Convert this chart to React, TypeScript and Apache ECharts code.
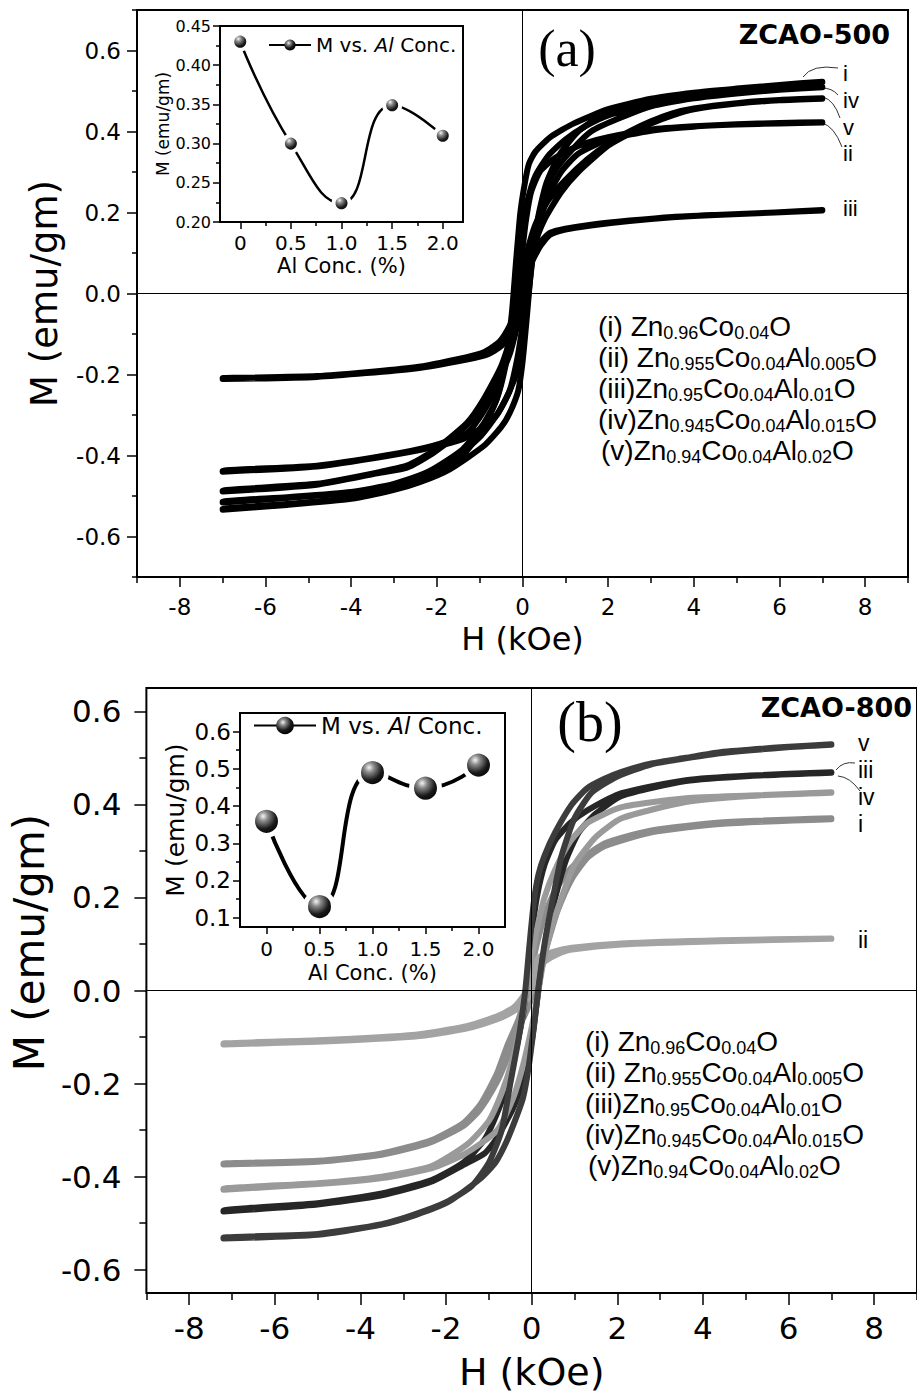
import React, { useEffect, useRef } from 'react';
import * as echarts from 'echarts';

// ---------- Inset data (M vs Al concentration) ----------
const alConc = [0, 0.5, 1.0, 1.5, 2.0];
const insetA_M = [0.43, 0.30, 0.224, 0.349, 0.31];
const insetB_M = [0.359, 0.13, 0.49, 0.448, 0.51];

// ---------- Tick values ----------
const mainXTicks = [-8, -6, -4, -2, 0, 2, 4, 6, 8];
const mainXMinor = [-9, -7, -5, -3, -1, 1, 3, 5, 7, 9];
const mainYTicksA = [-0.6, -0.4, -0.2, 0, 0.2, 0.4, 0.6];
const mainYMinorA = [-0.7, -0.5, -0.3, -0.1, 0.1, 0.3, 0.5, 0.7];
const mainYTicksB = [-0.6, -0.4, -0.2, 0, 0.2, 0.4, 0.6];
const mainYMinorB = [-0.5, -0.3, -0.1, 0.1, 0.3, 0.5];
const insetXTicks = [0, 0.5, 1.0, 1.5, 2.0];
const insetXMinor = [0.25, 0.75, 1.25, 1.75];
const insetAYTicks = [0.2, 0.25, 0.3, 0.35, 0.4, 0.45];
const insetAYMinor = [0.225, 0.275, 0.325, 0.375, 0.425];
const insetBYTicks = [0.1, 0.2, 0.3, 0.4, 0.5, 0.6];
const insetBYMinor = [0.15, 0.25, 0.35, 0.45, 0.55];

// ---------- Panel (a) ZCAO-500 loops: [H (kOe), M (emu/gm)] ----------
const a_i_down = [[7,0.523],[6,0.515],[5,0.506],[4,0.496],[3,0.481],[2,0.455],[1.2,0.42],[0.65,0.386],[0.3,0.35],[0.15,0.32],[0.05,0.27],[-0.05,0.2],[-0.15,0.08],[-0.25,-0.05],[-0.4,-0.17],[-0.6,-0.26],[-0.9,-0.33],[-1.4,-0.4],[-2.2,-0.455],[-3,-0.483],[-4,-0.505],[-5.5,-0.52],[-7,-0.532]];
const a_i_up = [[-7,-0.534],[-5.5,-0.522],[-4,-0.507],[-3,-0.485],[-2.4,-0.466],[-1.7,-0.434],[-0.9,-0.376],[-0.5,-0.33],[-0.3,-0.295],[-0.1,-0.24],[0,-0.17],[0.1,-0.06],[0.2,0.06],[0.35,0.18],[0.55,0.27],[0.85,0.34],[1.3,0.4],[2,0.448],[3,0.479],[4,0.495],[5,0.505],[6,0.514],[7,0.522]];
const a_ii_down = [[7,0.423],[6,0.421],[5,0.418],[4,0.413],[3,0.405],[2,0.386],[1.5,0.372],[1.1,0.355],[0.7,0.33],[0.4,0.3],[0.2,0.25],[0.08,0.18],[0,0.11],[-0.1,0.02],[-0.2,-0.06],[-0.35,-0.15],[-0.55,-0.22],[-0.9,-0.29],[-1.3,-0.345],[-2.1,-0.376],[-3.2,-0.4],[-4.8,-0.425],[-7,-0.438]];
const a_ii_up = [[-7,-0.44],[-4.8,-0.427],[-3.2,-0.402],[-2.1,-0.38],[-1.4,-0.36],[-1,-0.335],[-0.6,-0.3],[-0.3,-0.24],[-0.12,-0.16],[0,-0.08],[0.1,0],[0.2,0.07],[0.35,0.15],[0.55,0.23],[0.9,0.3],[1.3,0.345],[2,0.38],[3,0.402],[4,0.412],[5,0.417],[6,0.42],[7,0.422]];
const a_iii_down = [[7,0.206],[5.9,0.2],[4.5,0.194],[3.5,0.189],[2.5,0.18],[1.6,0.17],[1,0.16],[0.65,0.15],[0.4,0.125],[0.2,0.09],[0.05,0.04],[-0.05,0],[-0.15,-0.04],[-0.3,-0.08],[-0.53,-0.118],[-0.9,-0.145],[-1.3,-0.157],[-2.5,-0.182],[-4.8,-0.204],[-7,-0.209]];
const a_iii_up = [[-7,-0.211],[-4.8,-0.206],[-2.5,-0.185],[-1.3,-0.163],[-0.8,-0.15],[-0.5,-0.13],[-0.3,-0.1],[-0.13,-0.064],[0,-0.02],[0.1,0.02],[0.17,0.066],[0.41,0.116],[0.64,0.145],[1,0.158],[1.6,0.168],[2.5,0.179],[3.5,0.188],[4.5,0.194],[5.9,0.2],[7,0.205]];
const a_iv_down = [[7,0.51],[6,0.503],[5,0.494],[4,0.484],[3,0.468],[2,0.44],[1.5,0.415],[1,0.38],[0.6,0.34],[0.3,0.29],[0.12,0.23],[0,0.16],[-0.12,0.04],[-0.25,-0.08],[-0.4,-0.18],[-0.6,-0.26],[-0.9,-0.32],[-1.4,-0.385],[-2.2,-0.44],[-3,-0.47],[-4,-0.49],[-5.5,-0.503],[-7,-0.514]];
const a_iv_up = [[-7,-0.516],[-5.5,-0.505],[-4,-0.492],[-3,-0.472],[-2.2,-0.442],[-1.5,-0.4],[-1,-0.355],[-0.6,-0.3],[-0.3,-0.24],[-0.12,-0.19],[0,-0.13],[0.12,-0.02],[0.25,0.1],[0.4,0.2],[0.6,0.27],[0.8,0.31],[1.2,0.36],[1.6,0.4],[2.2,0.43],[3,0.462],[4,0.482],[5,0.494],[6,0.503],[7,0.509]];
const a_v_down = [[7,0.482],[6,0.478],[5,0.47],[4,0.457],[3.5,0.445],[3,0.425],[2.5,0.4],[2,0.37],[1.5,0.33],[1,0.28],[0.6,0.23],[0.3,0.17],[0.1,0.1],[0,0.05],[-0.1,-0.02],[-0.25,-0.1],[-0.5,-0.18],[-0.9,-0.26],[-1.3,-0.32],[-2.1,-0.39],[-2.7,-0.425],[-3.3,-0.44],[-4.8,-0.47],[-7,-0.487]];
const a_v_up = [[-7,-0.489],[-4.8,-0.472],[-3.3,-0.442],[-2.7,-0.43],[-2.1,-0.395],[-1.5,-0.345],[-1,-0.29],[-0.6,-0.22],[-0.3,-0.15],[-0.1,-0.07],[0,-0.02],[0.1,0.04],[0.25,0.11],[0.5,0.18],[0.9,0.25],[1.3,0.3],[2,0.365],[2.5,0.395],[3,0.42],[3.5,0.44],[4,0.455],[5,0.469],[6,0.477],[7,0.481]];

// ---------- Panel (b) ZCAO-800 loops ----------
const b_i_down = [[7,0.37],[4.4,0.361],[2.8,0.344],[1.7,0.316],[0.94,0.265],[0.55,0.215],[0.3,0.16],[0.12,0.1],[0,0.05],[-0.15,-0.01],[-0.3,-0.06],[-0.59,-0.123],[-0.82,-0.18],[-1.2,-0.245],[-1.6,-0.285],[-2.35,-0.322],[-3.5,-0.35],[-5,-0.366],[-7.2,-0.372]];
const b_i_up = [[-7.2,-0.374],[-5,-0.368],[-3.5,-0.353],[-2.35,-0.326],[-1.58,-0.29],[-1.21,-0.256],[-0.82,-0.198],[-0.59,-0.15],[-0.3,-0.08],[-0.1,-0.04],[0.05,0],[0.2,0.05],[0.4,0.11],[0.6,0.17],[0.94,0.24],[1.3,0.285],[1.7,0.31],[2.8,0.34],[4.4,0.358],[7,0.368]];
const b_ii_down = [[7,0.112],[4.4,0.108],[2.1,0.101],[0.94,0.092],[0.5,0.083],[0.16,0.071],[0.05,0.05],[-0.05,0.02],[-0.15,-0.005],[-0.3,-0.025],[-0.43,-0.037],[-0.82,-0.056],[-1.58,-0.078],[-2.72,-0.095],[-5,-0.107],[-7.2,-0.114]];
const b_ii_up = [[-7.2,-0.116],[-5,-0.11],[-2.72,-0.099],[-1.58,-0.083],[-0.82,-0.062],[-0.43,-0.045],[-0.2,-0.03],[-0.05,-0.01],[0.05,0.015],[0.16,0.045],[0.3,0.062],[0.6,0.078],[0.94,0.088],[2.1,0.099],[4.4,0.106],[7,0.111]];
const b_iii_down = [[7,0.469],[5.1,0.462],[3.6,0.452],[2.1,0.424],[1.3,0.387],[0.9,0.36],[0.55,0.323],[0.3,0.27],[0.12,0.2],[0,0.12],[-0.1,0.03],[-0.2,-0.05],[-0.35,-0.12],[-0.5,-0.18],[-0.75,-0.25],[-1.1,-0.32],[-1.6,-0.37],[-2.35,-0.408],[-3.5,-0.436],[-5,-0.457],[-7.2,-0.473]];
const b_iii_up = [[-7.2,-0.475],[-5,-0.46],[-3.5,-0.44],[-2.35,-0.411],[-1.58,-0.374],[-1.1,-0.35],[-0.82,-0.318],[-0.43,-0.252],[-0.2,-0.19],[0,-0.11],[0.1,-0.04],[0.2,0.03],[0.35,0.12],[0.55,0.2],[0.8,0.28],[1.1,0.34],[1.5,0.38],[2.1,0.418],[3.6,0.45],[5.1,0.461],[7,0.468]];
const b_iv_down = [[7,0.426],[5.1,0.419],[3.6,0.413],[2.1,0.394],[1.3,0.36],[0.9,0.32],[0.55,0.26],[0.3,0.2],[0.12,0.13],[0,0.07],[-0.12,0],[-0.25,-0.07],[-0.45,-0.15],[-0.7,-0.22],[-1,-0.28],[-1.5,-0.33],[-2.35,-0.378],[-3.5,-0.4],[-5,-0.414],[-7.2,-0.426]];
const b_iv_up = [[-7.2,-0.428],[-5,-0.416],[-3.5,-0.403],[-2.35,-0.382],[-1.58,-0.352],[-0.82,-0.302],[-0.43,-0.23],[-0.2,-0.16],[0,-0.08],[0.12,-0.02],[0.25,0.05],[0.45,0.13],[0.7,0.2],[1,0.27],[1.5,0.33],[2.1,0.37],[3.6,0.405],[5.1,0.418],[7,0.425]];
const b_v_down = [[7,0.529],[5.9,0.523],[4.4,0.512],[3.6,0.5],[2.8,0.488],[2.1,0.47],[1.7,0.455],[1.3,0.435],[0.94,0.4],[0.55,0.34],[0.3,0.29],[0.16,0.25],[0.05,0.19],[-0.05,0.1],[-0.15,0],[-0.3,-0.1],[-0.5,-0.2],[-0.7,-0.3],[-1,-0.37],[-1.4,-0.42],[-2,-0.455],[-2.7,-0.48],[-3.5,-0.502],[-5,-0.523],[-7.2,-0.531]];
const b_v_up = [[-7.2,-0.533],[-5,-0.525],[-3.5,-0.503],[-2.7,-0.482],[-1.96,-0.455],[-1.21,-0.405],[-0.85,-0.37],[-0.59,-0.325],[-0.35,-0.27],[-0.2,-0.23],[-0.08,-0.17],[0.05,-0.08],[0.15,0],[0.3,0.1],[0.5,0.2],[0.7,0.29],[1,0.37],[1.4,0.425],[2,0.46],[2.8,0.486],[3.6,0.499],[4.4,0.51],[5.9,0.522],[7,0.528]];

const curveLabels = ['i', 'ii', 'iii', 'iv', 'v'];
const loopsA = [[a_i_down, a_i_up], [a_ii_down, a_ii_up], [a_iii_down, a_iii_up], [a_iv_down, a_iv_up], [a_v_down, a_v_up]];
const loopsB = [[b_i_down, b_i_up], [b_ii_down, b_ii_up], [b_iii_down, b_iii_up], [b_iv_down, b_iv_up], [b_v_down, b_v_up]];
const colorsB = ['#8c8c8c', '#a3a3a3', '#262626', '#9a9a9a', '#3c3c3c'];

const compounds = [
  { tag: '(i) ', parts: [['Zn', '0.96'], ['Co', '0.04'], ['O', '']] },
  { tag: '(ii) ', parts: [['Zn', '0.955'], ['Co', '0.04'], ['Al', '0.005'], ['O', '']] },
  { tag: '(iii)', parts: [['Zn', '0.95'], ['Co', '0.04'], ['Al', '0.01'], ['O', '']] },
  { tag: '(iv)', parts: [['Zn', '0.945'], ['Co', '0.04'], ['Al', '0.015'], ['O', '']] },
  { tag: '(v)', parts: [['Zn', '0.94'], ['Co', '0.04'], ['Al', '0.02'], ['O', '']] },
];

const SANS = '"DejaVu Sans", sans-serif';
const ARIAL = '"Liberation Sans", Arial, sans-serif';
const SERIF = '"Liberation Serif", "Times New Roman", serif';

function sphere() {
  return new echarts.graphic.RadialGradient(0.38, 0.32, 0.7, [
    { offset: 0, color: '#f4f4f4' },
    { offset: 0.25, color: '#8a8a8a' },
    { offset: 0.65, color: '#1a1a1a' },
    { offset: 1, color: '#000' },
  ]);
}

function axis(kind: 'x' | 'y', gridIndex: number, min: number, max: number, ticks: number[], tickLen: number, label?: any, name?: any) {
  const a: any = {
    type: 'value', gridIndex, min, max,
    position: kind === 'x' ? 'bottom' : 'left',
    offset: 0,
    axisLine: { show: false, onZero: false },
    splitLine: { show: false },
    axisPointer: { show: false },
    axisTick: { show: true, inside: false, length: tickLen, customValues: ticks, lineStyle: { color: '#000', width: 1.5 } },
    axisLabel: label ? { show: true, color: '#000', ...label } : { show: false },
  };
  if (name) Object.assign(a, name);
  return a;
}

function formulaRich(c: any) {
  return `{m|${c.tag}}` + c.parts.map(([e, s]: string[]) => `{m|${e}}` + (s ? `{s|${s}}` : '')).join('');
}

const formulaStyles = {
  m: { fontSize: 28, lineHeight: 31, fontFamily: ARIAL, fill: '#000', color: '#000' },
  s: { fontSize: 18, lineHeight: 17, fontFamily: ARIAL, verticalAlign: 'bottom', fill: '#000', color: '#000' },
};

function formulaBlock(x: number, y0: number, dy: number) {
  return compounds.map((c, k) => ({
    type: 'text', x: x + (k === 4 ? 3 : 0), y: y0 + k * dy, silent: true,
    style: { text: formulaRich(c), rich: formulaStyles, verticalAlign: 'middle', align: 'left', fill: '#000' },
  }));
}

function label(text: string, x: number, y: number, size: number) {
  return { type: 'text', x, y, silent: true, style: { text, font: `${size}px ${ARIAL}`, fill: '#000', align: 'left', verticalAlign: 'middle' } };
}

function leader(x1: number, y1: number, cpx: number, cpy: number, x2: number, y2: number) {
  return { type: 'bezierCurve', silent: true, shape: { x1, y1, x2, y2, cpx1: cpx, cpy1: cpy }, style: { stroke: '#333', lineWidth: 1, fill: 'none' } };
}

const zeroLines = {
  silent: true, symbol: ['none', 'none'], label: { show: false },
  lineStyle: { color: '#000', width: 1, type: 'solid' }, emphasis: { disabled: true },
  data: [{ xAxis: 0 }, { yAxis: 0 }],
};

const legendRich = {
  n: { fontFamily: SANS, color: '#000' },
  it: { fontFamily: SANS, fontStyle: 'italic', color: '#000' },
};

export default function App() {
  const ref = useRef<HTMLDivElement>(null);
  useEffect(() => {
    if (!ref.current) return;
    const chart = echarts.init(ref.current, undefined, { renderer: 'svg' });
    const insetFmt = (v: number) => (v === 0 ? '0' : v.toFixed(1));

    const grids = [
      { left: 137, top: 10, width: 771, height: 567 },
      { left: 220, top: 26, width: 243, height: 196 },
      { left: 142, top: 688, width: 788, height: 605 },
      { left: 240, top: 713, width: 265, height: 214 },
    ].map((g) => ({ ...g, show: true, borderColor: '#000', borderWidth: 2, backgroundColor: 'transparent', containLabel: false }));

    const xAxis = [
      axis('x', 0, -9, 9, mainXTicks, 10, { customValues: mainXTicks, fontFamily: SANS, fontSize: 23, margin: 18, formatter: (v: number) => String(v) },
        { name: 'H (kOe)', nameLocation: 'middle', nameGap: 46, nameTextStyle: { fontFamily: SANS, fontSize: 32, color: '#000' } }),
      axis('x', 0, -9, 9, mainXMinor, 6),
      axis('x', 1, -0.2, 2.2, insetXTicks, 7, { customValues: insetXTicks, fontFamily: SANS, fontSize: 20, margin: 11, formatter: insetFmt },
        { name: 'Al Conc. (%)', nameLocation: 'middle', nameGap: 33, nameTextStyle: { fontFamily: SANS, fontSize: 21, color: '#000' } }),
      axis('x', 1, -0.2, 2.2, insetXMinor, 4),
      axis('x', 2, -9, 9, mainXTicks, 12, { customValues: mainXTicks, fontFamily: SANS, fontSize: 31, margin: 19, formatter: (v: number) => String(v) },
        { name: 'H (kOe)', nameLocation: 'middle', nameGap: 60, nameTextStyle: { fontFamily: SANS, fontSize: 38, color: '#000' } }),
      axis('x', 2, -9, 9, mainXMinor, 7),
      axis('x', 3, -0.25, 2.25, insetXTicks, 7, { customValues: insetXTicks, fontFamily: SANS, fontSize: 20, margin: 12, formatter: insetFmt },
        { name: 'Al Conc. (%)', nameLocation: 'middle', nameGap: 35, nameTextStyle: { fontFamily: SANS, fontSize: 21, color: '#000' } }),
      axis('x', 3, -0.25, 2.25, insetXMinor, 4),
    ];
    const yAxis = [
      axis('y', 0, -0.7, 0.7, mainYTicksA, 10, { customValues: mainYTicksA, fontFamily: SANS, fontSize: 23, margin: 16, formatter: (v: number) => v.toFixed(1) },
        { name: 'M (emu/gm)', nameLocation: 'middle', nameGap: 74, nameTextStyle: { fontFamily: SANS, fontSize: 37, color: '#000' } }),
      axis('y', 0, -0.7, 0.7, mainYMinorA, 5),
      axis('y', 1, 0.2, 0.45, insetAYTicks, 7, { customValues: insetAYTicks, fontFamily: SANS, fontSize: 16, margin: 9, formatter: (v: number) => v.toFixed(2) },
        { name: 'M (emu/gm)', nameLocation: 'middle', nameGap: 48, nameTextStyle: { fontFamily: SANS, fontSize: 17, color: '#000' } }),
      axis('y', 1, 0.2, 0.45, insetAYMinor, 4),
      axis('y', 2, -0.65, 0.65, mainYTicksB, 12, { customValues: mainYTicksB, fontFamily: SANS, fontSize: 31, margin: 25, formatter: (v: number) => v.toFixed(1) },
        { name: 'M (emu/gm)', nameLocation: 'middle', nameGap: 84, nameTextStyle: { fontFamily: SANS, fontSize: 42, color: '#000', padding: [0, 0, 0, 96] } }),
      axis('y', 2, -0.65, 0.65, mainYMinorB, 7),
      axis('y', 3, 0.075, 0.65, insetBYTicks, 7, { customValues: insetBYTicks, fontFamily: SANS, fontSize: 23, margin: 9, formatter: (v: number) => v.toFixed(1) },
        { name: 'M (emu/gm)', nameLocation: 'middle', nameGap: 52, nameTextStyle: { fontFamily: SANS, fontSize: 25, color: '#000' } }),
      axis('y', 3, 0.075, 0.65, insetBYMinor, 4),
    ];

    const seriesA = loopsA.map(([down, up], k) => ({
      type: 'line', name: 'a-' + curveLabels[k], xAxisIndex: 0, yAxisIndex: 0,
      data: [...down, ...up], showSymbol: false, symbol: 'none', smooth: 0.2, silent: true, z: 3,
      lineStyle: { color: '#000', width: 6, cap: 'round', join: 'round' },
      markLine: k === 0 ? zeroLines : undefined,
    }));
    const seriesB = loopsB.map(([down, up], k) => ({
      type: 'line', name: 'b-' + curveLabels[k], xAxisIndex: 4, yAxisIndex: 4,
      data: [...down, ...up], showSymbol: false, symbol: 'none', smooth: 0.2, silent: true, z: 3,
      lineStyle: { color: colorsB[k], width: 6, cap: 'round', join: 'round' },
      markLine: k === 0 ? zeroLines : undefined,
    }));
    const insetSeries = (name: string, xi: number, vals: number[], size: number, border: number, lw: number) => ({
      type: 'line', name, xAxisIndex: xi, yAxisIndex: xi,
      data: alConc.map((c, i) => [c, vals[i]]),
      smooth: 0.5, symbol: 'circle', symbolSize: size, showSymbol: true, z: 5,
      lineStyle: { color: '#000', width: lw },
      itemStyle: { color: sphere(), borderColor: '#fff', borderWidth: border },
    });

    const legendFmt = () => '{n|M vs. }{it|Al}{n| Conc.}';

    chart.setOption({
      animation: false,
      backgroundColor: '#fff',
      grid: grids,
      xAxis, yAxis,
      legend: [
        { data: ['insetA'], left: 268, top: 35, padding: 0, itemWidth: 42, itemHeight: 14, selectedMode: false, formatter: legendFmt,
          itemStyle: { borderWidth: 0 }, textStyle: { fontSize: 20, rich: { n: { ...legendRich.n, fontSize: 20 }, it: { ...legendRich.it, fontSize: 20 } } } },
        { data: ['insetB'], left: 253, top: 714, padding: 0, itemWidth: 62, itemHeight: 22, selectedMode: false, formatter: legendFmt,
          itemStyle: { borderWidth: 0 }, textStyle: { fontSize: 23, rich: { n: { ...legendRich.n, fontSize: 23 }, it: { ...legendRich.it, fontSize: 23 } } } },
      ],
      series: [
        ...seriesA,
        ...seriesB,
        insetSeries('insetA', 2, insetA_M, 16, 4, 2.5),
        insetSeries('insetB', 6, insetB_M, 28, 5, 4),
      ],
      graphic: [
        { type: 'text', x: 567, y: 48, silent: true, style: { text: '(a)', font: `52px ${SERIF}`, fill: '#000', align: 'center', verticalAlign: 'middle' } },
        { type: 'text', x: 590, y: 722, silent: true, style: { text: '(b)', font: `56px ${SERIF}`, fill: '#000', align: 'center', verticalAlign: 'middle' } },
        { type: 'text', x: 890, y: 34, silent: true, style: { text: 'ZCAO-500', font: `bold 27px ${SANS}`, fill: '#000', align: 'right', verticalAlign: 'middle' } },
        { type: 'text', x: 912, y: 707, silent: true, style: { text: 'ZCAO-800', font: `bold 27px ${SANS}`, fill: '#000', align: 'right', verticalAlign: 'middle' } },
        label('i', 843, 73, 22), label('iv', 843, 100, 22), label('v', 843, 127, 22), label('ii', 843, 153, 22), label('iii', 843, 208, 22),
        label('v', 858, 743, 23), label('iii', 858, 770, 23), label('iv', 858, 797, 23), label('i', 858, 824, 23), label('ii', 858, 940, 23),
        leader(803, 77, 812, 64, 838, 68), leader(822, 88, 832, 88, 838, 95), leader(823, 97, 834, 100, 840, 118), leader(822, 123, 834, 126, 842, 147),
        leader(836, 770, 843, 761, 855, 763), leader(838, 776, 850, 777, 860, 791),
        ...formulaBlock(598, 326, 31),
        ...formulaBlock(585, 1041, 31),
      ],
    });
    return () => chart.dispose();
  }, []);
  return <div ref={ref} style={{ position: 'absolute', left: 0, top: 0, width: 917, height: 1397 }} />;
}
